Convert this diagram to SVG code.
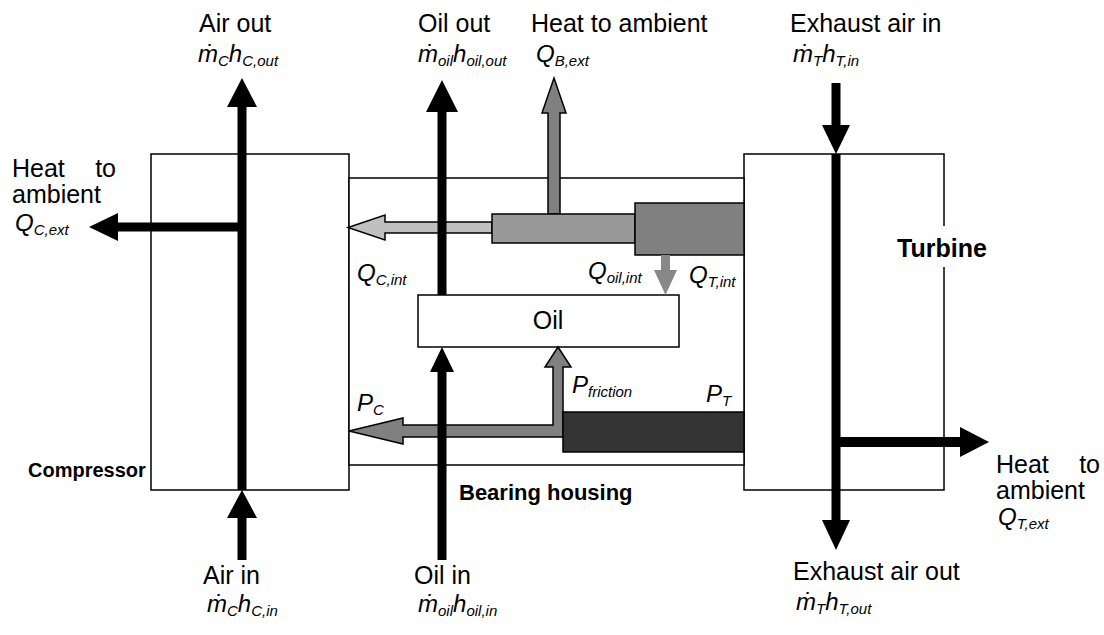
<svg xmlns="http://www.w3.org/2000/svg" width="1104" height="635" viewBox="0 0 1104 635">
<style>
.box{fill:#fff;stroke:#000;stroke-width:1.5}
.t{font-family:"Liberation Sans",Arial,sans-serif;font-size:25px;fill:#000}
.b{font-weight:bold}
.m{font-family:"Liberation Sans",Arial,sans-serif;font-size:24px;font-style:italic;fill:#000}
.s{font-size:15px}
.blk{fill:#000;stroke:none}
.gr{fill:#808080;stroke:#000;stroke-width:1.5}
</style>
<rect width="1104" height="635" fill="#fff"/>
<g id="compressor">
<rect class="box" x="151" y="154" width="198" height="336"/>
<text class="t b" x="28" y="477" style="font-size:20px">Compressor</text>
</g>
<g id="turbine">
<rect class="box" x="744" y="154" width="200" height="336"/>
<rect x="894" y="226" width="106" height="41" fill="#fff"/>
<text class="t b" x="897" y="257">Turbine</text>
</g>
<g id="bearing-housing">
<rect class="box" x="349" y="178" width="395" height="287"/>
<text class="t b" x="459" y="500" style="font-size:22px">Bearing housing</text>
</g>
<g id="oil">
<rect class="box" x="418" y="295" width="261" height="52"/>
<text class="t" x="548" y="329" text-anchor="middle">Oil</text>
</g>
<g id="connectors">
<polygon fill="#c0c0c0" stroke="#000" stroke-width="1.5" points="492,222 385,222 385,215 348,227.5 385,240 385,233 492,233"/>
<polygon class="gr" points="548,214 548,113 542,113 554,78 566,113 560,113 560,214"/>
<rect id="bar-b" x="492" y="214" width="143" height="29" fill="#999" stroke="#000" stroke-width="1.5"/>
<rect id="block-qt" x="635" y="203" width="109" height="52" fill="#808080" stroke="#000" stroke-width="1.5"/>
<polygon fill="#888" points="661,255 661,270 654,270 665.5,295 677,270 670,270 670,255"/>
<polygon class="gr" points="563,437 403,437 403,444 349,431 403,418 403,425 553,425 553,367 545,367 558,347 571,367 563,367 563,412"/>
<rect id="block-pt" x="563" y="412" width="181" height="40" fill="#333" stroke="#000" stroke-width="1.5"/>
<polygon class="blk" points="237.5,490 237.5,107 227,107 242,78 257,107 246.5,107 246.5,490"/>
<polygon class="blk" points="237.5,560 237.5,518 227,518 242,490 257,518 246.5,518 246.5,560"/>
<polygon class="blk" points="242,222.5 118,222.5 118,213 89,227 118,241 118,231.5 242,231.5"/>
<polygon class="blk" points="437.5,295 437.5,112 426,112 442,80 458,112 446.5,112 446.5,295"/>
<polygon class="blk" points="437.5,560 437.5,372 430,372 442,347 454,372 446.5,372 446.5,560"/>
<polygon class="blk" points="831.5,83 831.5,125 822,125 836,154 850,125 840.5,125 840.5,83"/>
<polygon class="blk" points="831.5,154 831.5,520 822,520 836,550 850,520 840.5,520 840.5,154"/>
<polygon class="blk" points="836,437 960,437 960,427 989,442 960,457 960,447 836,447"/>
</g>
<g id="labels">
<text class="t" x="199" y="32">Air out</text>
<text class="m" x="198" y="62">ṁ<tspan class="s" dy="4">C</tspan><tspan dy="-4">h</tspan><tspan class="s" dy="4">C,out</tspan></text>
<text class="t" x="418" y="32">Oil out</text>
<text class="m" x="418" y="62">ṁ<tspan class="s" dy="4">oil</tspan><tspan dy="-4">h</tspan><tspan class="s" dy="4">oil,out</tspan></text>
<text class="t" x="531" y="32">Heat to ambient</text>
<text class="m" x="536" y="62">Q<tspan class="s" dy="4">B,ext</tspan></text>
<text class="t" x="790" y="32">Exhaust air in</text>
<text class="m" x="793" y="62">ṁ<tspan class="s" dy="4">T</tspan><tspan dy="-4">h</tspan><tspan class="s" dy="4">T,in</tspan></text>
<text class="t"><tspan x="12" y="177">Heat</tspan><tspan x="116" y="177" text-anchor="end">to</tspan><tspan x="12" y="203">ambient</tspan></text>
<text class="m" x="15" y="231">Q<tspan class="s" dy="4">C,ext</tspan></text>
<text class="m" x="357" y="281">Q<tspan class="s" dy="4">C,int</tspan></text>
<text class="m" x="588" y="279">Q<tspan class="s" dy="4">oil,int</tspan></text>
<text class="m" x="689" y="283">Q<tspan class="s" dy="4">T,int</tspan></text>
<text class="m" x="572" y="393">P<tspan class="s" dy="4">friction</tspan></text>
<text class="m" x="706" y="402">P<tspan class="s" dy="4">T</tspan></text>
<text class="m" x="357" y="411">P<tspan class="s" dy="4">C</tspan></text>
<text class="t"><tspan x="996" y="473">Heat</tspan><tspan x="1100" y="473" text-anchor="end">to</tspan><tspan x="996" y="499">ambient</tspan></text>
<text class="m" x="998" y="525">Q<tspan class="s" dy="4">T,ext</tspan></text>
<text class="t" x="793" y="580">Exhaust air out</text>
<text class="m" x="796" y="610">ṁ<tspan class="s" dy="4">T</tspan><tspan dy="-4">h</tspan><tspan class="s" dy="4">T,out</tspan></text>
<text class="t" x="203" y="584">Air in</text>
<text class="m" x="207" y="612">ṁ<tspan class="s" dy="4">C</tspan><tspan dy="-4">h</tspan><tspan class="s" dy="4">C,in</tspan></text>
<text class="t" x="414" y="584">Oil in</text>
<text class="m" x="418" y="612">ṁ<tspan class="s" dy="4">oil</tspan><tspan dy="-4">h</tspan><tspan class="s" dy="4">oil,in</tspan></text>
</g>
</svg>
